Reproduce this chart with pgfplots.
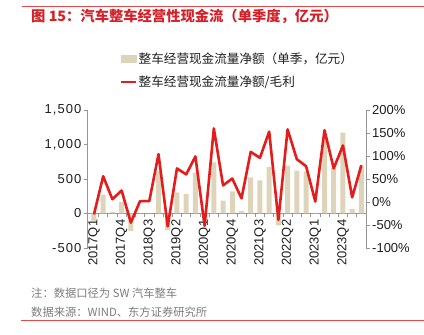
\documentclass[border=0pt]{standalone}
\usepackage{pgfplots}
\pgfplotsset{compat=1.18}
\usepackage{pgfplotstable}
\usepackage{fontspec}
\setmainfont{Liberation Sans}
\newfontfamily\cjk{Noto Sans CJK SC}
\newfontfamily\lsp{Liberation Sans}[LetterSpace=8]

\definecolor{bartan}{RGB}{222,212,186}
\definecolor{linered}{RGB}{228,28,28}
\definecolor{axisgray}{RGB}{150,150,150}
\definecolor{labtext}{RGB}{30,30,30}
\definecolor{notegray}{RGB}{125,125,125}
\definecolor{titlered}{RGB}{214,32,40}
\definecolor{rulered}{RGB}{232,72,72}

\pgfplotstableread{
i bar ratio
0 -110 -0.27
1 274 0.56
2 25 0.06
3 169 0.25
4 -255 -0.45
5 3 0.02
6 3 0.02
7 610 1.04
8 -245 -0.53
9 307 0.73
10 284 0.60
11 587 0.99
12 -30 -0.52
13 740 1.60
14 188 0.36
15 322 0.51
16 34 0.08
17 524 1.09
18 481 0.96
19 674 1.53
20 -173 -0.39
21 693 1.58
22 620 0.93
23 610 0.78
24 10 0.01
25 1100 1.56
26 659 0.73
27 1173 1.23
28 67 0.10
29 683 0.80
}\data

\begin{document}
\begin{tikzpicture}
\path[use as bounding box] (0,0) rectangle (424pt,335pt);
\draw[rulered, line width=0.8pt] (22pt,329pt) -- (424pt,329pt);
\draw[rulered, line width=0.8pt] (21pt,15pt) -- (424pt,15pt);
\node[anchor=west, inner sep=0pt, text=titlered, font=\cjk\bfseries\fontsize{14.3}{15}\selectfont] at (31pt,318.5pt) {图 15：汽车整车经营性现金流（单季度，亿元）};
\node[anchor=west, inner sep=0pt, text=notegray, font=\cjk\fontsize{11.3}{12}\selectfont] at (31pt,42pt) {注：数据口径为 SW 汽车整车};
\node[anchor=west, inner sep=0pt, text=notegray, font=\cjk\fontsize{11.3}{12}\selectfont] at (31pt,23pt) {数据来源：WIND、东方证券研究所};

\begin{axis}[
  at={(87.5pt,87pt)}, anchor=south west,
  scale only axis, width=278.5pt, height=138pt,
  xmin=-0.7, xmax=29.5, ymin=-500, ymax=1500,
  axis x line=middle, axis y line=left,
  hide obscured x ticks=false, hide obscured y ticks=false,
  axis line style={-, draw=axisgray, line width=0.6pt},
  xtick={0,3,...,27},
  xticklabels={2017Q1,2017Q4,2018Q3,2019Q2,2020Q1,2020Q4,2021Q3,2022Q2,2023Q1,2023Q4},
  minor xtick={0.5,1.5,...,28.5},
  tick align=outside,
  major x tick style={draw=none},
  major tick length=4pt, minor tick length=4pt,
  tick style={axisgray, line width=0.6pt},
  xticklabel style={rotate=90, anchor=east, font=\fontsize{13}{13}\selectfont, text=labtext, inner sep=2pt},
  ytick={-500,0,500,1000,1500},
  yticklabels={-500,0,500,{1,000},{1,500}},
  yticklabel style={font=\lsp\fontsize{13}{13}\selectfont, text=labtext, inner sep=2pt},
  clip=false,
]
\addplot[ybar, bar width=5pt, fill=bartan, draw=none] table[x=i,y=bar]{\data};
\end{axis}

\begin{axis}[
  at={(87.5pt,87pt)}, anchor=south west,
  scale only axis, width=278.5pt, height=138pt,
  xmin=-0.7, xmax=29.5, ymin=-1, ymax=2,
  axis x line=none, axis y line=right,
  axis line style={-, draw=axisgray, line width=0.6pt},
  tick align=outside,
  major tick length=4pt,
  tick style={axisgray, line width=0.6pt},
  ytick={-1,-0.5,0,0.5,1,1.5,2},
  yticklabels={-100\%,-50\%,0\%,50\%,100\%,150\%,200\%},
  yticklabel style={font=\fontsize{13}{13}\selectfont, text=labtext, inner sep=2pt},
  clip=false,
  legend style={at={(0.1060,1.445)}, anchor=north west, draw=none, fill=none,
    font=\cjk\fontsize{12.6}{15}\selectfont, text=labtext, cells={anchor=west}, row sep=8pt,
    nodes={inner sep=1.5pt}},
]
\addlegendimage{legend image code/.code={\fill[bartan] (0pt,-3.5pt) rectangle (15pt,3.5pt);}}
\addlegendentry{整车经营现金流量净额（单季，亿元）}
\addplot[linered, line width=2.6pt, line join=round, mark=none,
  legend image code/.code={\draw[linered, line width=2pt] (0pt,0pt) -- (15pt,0pt);}]
  table[x=i,y=ratio]{\data};
\addlegendentry{整车经营现金流量净额/毛利}
\end{axis}
\end{tikzpicture}
\end{document}
